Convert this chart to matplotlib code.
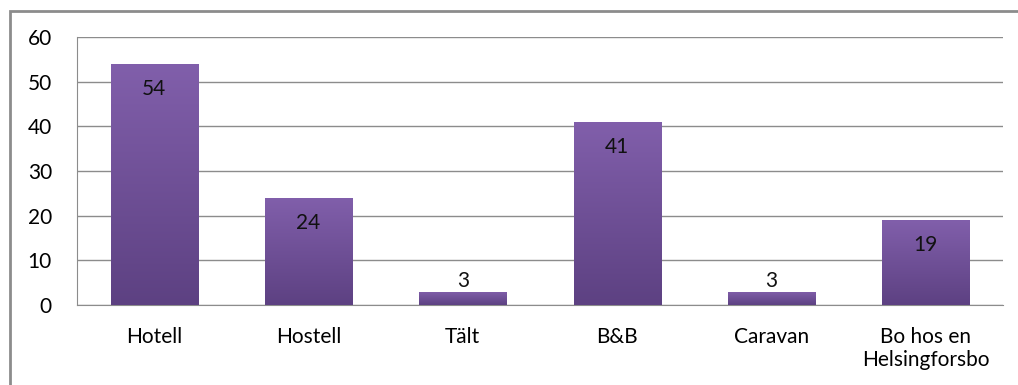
import numpy as np
import matplotlib.pyplot as plt
import matplotlib.patches as patches

# Accommodation answers
categories = ["Hotell", "Hostell", "Tält", "B&B", "Caravan", "Bo hos en\nHelsingforsbo"]
counts = [54, 24, 3, 41, 3, 19]
y_ticks = [0, 10, 20, 30, 40, 50, 60]

TOP_COLOR = np.array([0x81, 0x5f, 0xab]) / 255
BOTTOM_COLOR = np.array([0x5d, 0x41, 0x82]) / 255
FS = 15

plt.rcParams['font.family'] = ['Lato', 'DejaVu Sans']

fig = plt.figure(figsize=(10.18, 3.85), dpi=100)
ax = fig.add_axes([0.0756, 0.2078, 0.9097, 0.6961])

x = np.arange(len(categories))
bars = ax.bar(x, counts, width=0.565, color=BOTTOM_COLOR, zorder=2)

# Vertical gradient fill, clipped to each bar
grad = np.linspace(0, 1, 256).reshape(-1, 1)
cmap_vals = TOP_COLOR * (1 - grad[..., None]) + BOTTOM_COLOR * grad[..., None]
for bar in bars:
    x0, w, h = bar.get_x(), bar.get_width(), bar.get_height()
    im = ax.imshow(cmap_vals, extent=(x0, x0 + w, 0, h), aspect='auto',
                   origin='upper', zorder=3)
    im.set_clip_path(bar)

# Value labels: inside the top of tall bars, above short ones
for xi, v in zip(x, counts):
    if v > 6:
        ax.text(xi, v - 5.6, str(v), ha='center', va='center', fontsize=FS, color='#111111', zorder=4)
    else:
        ax.text(xi, v + 2.4, str(v), ha='center', va='center', fontsize=FS, color='#111111', zorder=4)

ax.set_xlim(-0.5, len(categories) - 0.5)
ax.set_ylim(0, 60)
ax.set_yticks(y_ticks)
ax.set_xticks(x)
ax.set_xticklabels(categories, fontsize=FS, linespacing=1.15)
ax.tick_params(axis='y', length=0, pad=18, labelsize=FS)
ax.tick_params(axis='x', length=0, pad=16)
ax.grid(axis='y', color='#8c8c8c', linewidth=1, zorder=0)
ax.set_axisbelow(True)

for side in ['top', 'right']:
    ax.spines[side].set_visible(False)
ax.spines['left'].set_color('#8c8c8c')
ax.spines['bottom'].set_color('#8c8c8c')

# Outer chart frame
frame = patches.Rectangle((10 / 1018, -0.1), 1.2, 1 - 11 / 385 + 0.1,
                          transform=fig.transFigure, fill=False,
                          edgecolor='#8c8c8c', linewidth=2)
fig.patches.append(frame)

fig.savefig("out.png", dpi=100)
